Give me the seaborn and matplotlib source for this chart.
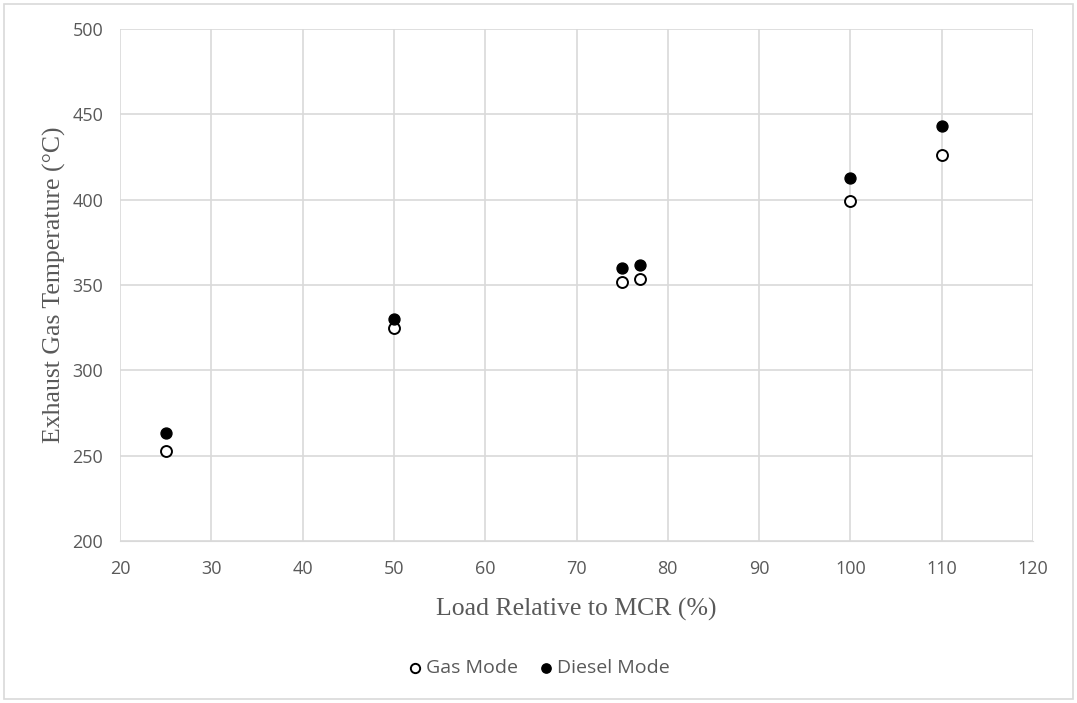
import pandas as pd
import seaborn as sns
import matplotlib.pyplot as plt
from matplotlib.patches import Rectangle

# valores
load = [25, 50, 75, 77, 100, 110]
gas_temp = [252.5, 325, 351.5, 353.8, 399.5, 426.3]
diesel_temp = [263, 330, 360, 362, 412.7, 443]

df = pd.DataFrame({'load': load, 'gas': gas_temp, 'diesel': diesel_temp})

sns.set_style('white')
plt.rcParams['font.family'] = ['Open Sans', 'DejaVu Sans']

fig = plt.figure(figsize=(10.77, 7.03), dpi=100)
ax = fig.add_axes([120 / 1077, 1 - 541 / 703, 913 / 1077, 512 / 703])

sns.scatterplot(data=df, x='load', y='gas', ax=ax, s=62, color='white',
                edgecolor='black', linewidth=1.4, label='Gas Mode', zorder=3)
sns.scatterplot(data=df, x='load', y='diesel', ax=ax, s=62, color='black',
                edgecolor='black', linewidth=1.0, label='Diesel Mode', zorder=3)

ax.set_xlim(20, 120)
ax.set_ylim(200, 500)
ax.set_xticks(range(20, 121, 10))
ax.set_yticks(range(200, 501, 50))
ax.grid(True, color='#d9d9d9', linewidth=1.2)
for s in ax.spines.values():
    s.set_visible(False)
ax.spines['bottom'].set_visible(True)
ax.spines['bottom'].set_color('#d9d9d9')
ax.tick_params(axis='both', labelsize=13, colors='#595959', length=0)
ax.tick_params(axis='x', pad=14)
ax.tick_params(axis='y', pad=12)

ax.set_xlabel('Load Relative to MCR (%)', family='Liberation Serif', fontsize=18.5,
              color='#595959', labelpad=14)
ax.set_ylabel('Exhaust Gas Temperature (°C)', family='Liberation Serif', fontsize=18.5,
              color='#595959', labelpad=5)

leg = ax.legend(loc='center', bbox_to_anchor=(0.5, 1 - 668 / 703), bbox_transform=fig.transFigure,
                ncol=2, frameon=False, fontsize=14, handletextpad=0.2, handlelength=0.8,
                columnspacing=1.0, markerscale=0.85)
for t in leg.get_texts():
    t.set_color('#595959')

fig.patches.append(Rectangle((4 / 1077, 4 / 703), 1069 / 1077, 695 / 703, transform=fig.transFigure,
                             fill=False, edgecolor='#d9d9d9', linewidth=1.2))

fig.savefig('out.png', dpi=100)
